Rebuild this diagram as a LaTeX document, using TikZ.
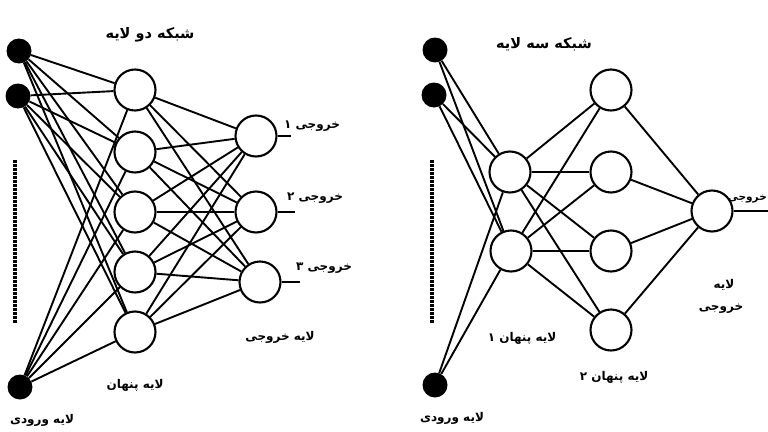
\documentclass[tikz,border=0pt]{standalone}
\usepackage{fontspec}
\newfontfamily\fa[Script=Arabic]{DejaVu Sans Bold}
\TeXXeTstate=1
\begin{document}
\begin{tikzpicture}[x=1pt,y=-1pt,
  inp/.style={circle, fill=black, minimum size=25pt, inner sep=0pt},
  neu/.style={circle, draw, line width=2.1pt, fill=white, minimum size=41pt, inner sep=0pt},
  edge/.style={line width=1.9pt},
  dotline/.style={line width=3.2pt, dash pattern=on 3pt off 1pt},
  lab/.style={font=\fa\fontsize{12}{13}\selectfont, inner sep=1pt},
  ttl/.style={font=\fa\fontsize{14.5}{15}\selectfont, inner sep=1pt}]
\useasboundingbox (0,0) rectangle (768,431);
\clip (0,0) rectangle (768,431);
\fill[white] (0,0) rectangle (768,431);

% ---------- left: two-layer network ----------
\node[inp] (Li1) at (19,51) {};
\node[inp] (Li2) at (18,96) {};
\node[inp] (Li3) at (20,387) {};
\node[neu] (Lh1) at (135,90) {};
\node[neu] (Lh2) at (135,152) {};
\node[neu] (Lh3) at (135,212) {};
\node[neu] (Lh4) at (135,272) {};
\node[neu] (Lh5) at (135,332) {};
\node[neu] (Lo1) at (256,136) {};
\node[neu] (Lo2) at (256,212) {};
\node[neu] (Lo3) at (260,282) {};
\foreach \i in {1,2,3}{\foreach \h in {1,...,5}{\draw[edge] (Li\i) -- (Lh\h);}}
\foreach \h in {1,...,5}{\foreach \o in {1,2,3}{\draw[edge] (Lh\h) -- (Lo\o);}}
\coordinate (Le1) at (291,136);
\coordinate (Le2) at (295,212);
\coordinate (Le3) at (300,282);
\foreach \o in {1,2,3}{\draw[edge] (Lo\o) -- (Le\o);}
\coordinate (Ld1) at (15,160);
\coordinate (Ld2) at (15,323);
\draw[dotline] (Ld1) -- (Ld2);

\node[ttl] (Lt) at (150,35) {\beginR شبکه دو لایه\endR};
\node[lab] (Lo1l) at (312,126) {\beginR خروجی ۱\endR};
\node[lab] (Lo2l) at (315,198) {\beginR خروجی ۲\endR};
\node[lab] (Lo3l) at (324,268) {\beginR خروجی ۳\endR};
\node[lab] (Lol) at (280,337) {\beginR لایه خروجی\endR};
\node[lab] (Lhl) at (135,385) {\beginR لایه پنهان\endR};
\node[lab] (Lil) at (42,420) {\beginR لایه ورودی\endR};

% ---------- right: three-layer network ----------
\node[inp] (Ri1) at (435,50) {};
\node[inp] (Ri2) at (434,95) {};
\node[inp] (Ri3) at (435,385) {};
\node[neu] (Ra1) at (510,172) {};
\node[neu] (Ra2) at (511,251) {};
\node[neu] (Rb1) at (611,90) {};
\node[neu] (Rb2) at (611,172) {};
\node[neu] (Rb3) at (611,251) {};
\node[neu] (Rb4) at (611,330) {};
\node[neu] (Ro) at (712,211) {};
\foreach \i in {1,2,3}{\foreach \h in {1,2}{\draw[edge] (Ri\i) -- (Ra\h);}}
\foreach \h in {1,2}{\foreach \k in {1,...,4}{\draw[edge] (Ra\h) -- (Rb\k);}}
\foreach \k in {1,...,4}{\draw[edge] (Rb\k) -- (Ro);}
\coordinate (Re) at (770,211);
\draw[edge] (Ro) -- (Re);
\coordinate (Rd1) at (432,160);
\coordinate (Rd2) at (432,323);
\draw[dotline] (Rd1) -- (Rd2);

\node[ttl] (Rt) at (544,44) {\beginR شبکه سه لایه\endR};
\node[lab, anchor=east, font=\fa\fontsize{10.5}{11}\selectfont] (Rol1) at (768,199) {\beginR خروجی\endR};
\node[lab] (Ral) at (522,338) {\beginR لایه پنهان ۱\endR};
\node[lab] (Rbl) at (614,377) {\beginR لایه پنهان ۲\endR};
\node[lab] (Rol2) at (724,285) {\beginR لایه\endR};
\node[lab] (Rol3) at (721,309) {\beginR خروجی\endR};
\node[lab] (Ril) at (452,418) {\beginR لایه ورودی\endR};
\end{tikzpicture}
\end{document}
